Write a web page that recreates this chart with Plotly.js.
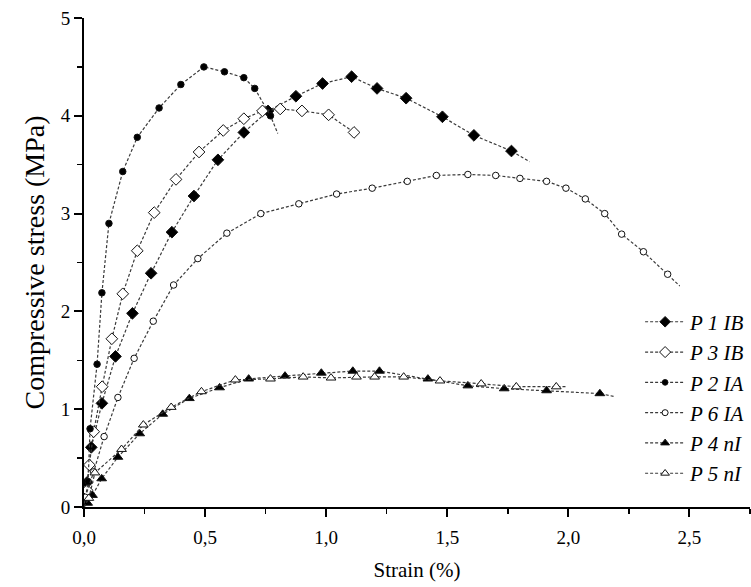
<!DOCTYPE html>
<html>
<head>
<meta charset="utf-8">
<script src="https://cdn.plot.ly/plotly-3.0.1.min.js"></script>
<style>html,body{margin:0;padding:0;background:#fff;}#chart{width:751px;height:587px;}</style>
</head>
<body>
<div id="chart"></div>
<script>
// Strain (%) and compressive stress (MPa) per specimen
const p1ibX = [0, 0.012, 0.03, 0.074, 0.13, 0.20, 0.277, 0.363, 0.454, 0.553, 0.66, 0.76, 0.875, 0.985, 1.105, 1.21, 1.33, 1.48, 1.61, 1.765, 1.84];
const p1ibY = [0, 0.25, 0.61, 1.06, 1.54, 1.98, 2.39, 2.81, 3.18, 3.55, 3.83, 4.05, 4.20, 4.33, 4.40, 4.28, 4.18, 3.99, 3.80, 3.64, 3.53];
const p1ibM = [false, true, true, true, true, true, true, true, true, true, true, true, true, true, true, true, true, true, true, true, false];

const p3ibX = [0, 0.013, 0.022, 0.04, 0.075, 0.115, 0.16, 0.22, 0.29, 0.38, 0.475, 0.575, 0.66, 0.737, 0.81, 0.90, 1.01, 1.115];
const p3ibY = [0, 0.17, 0.43, 0.77, 1.23, 1.72, 2.18, 2.62, 3.01, 3.35, 3.63, 3.85, 3.97, 4.05, 4.07, 4.05, 4.01, 3.83];
const p3ibM = [false, true, true, true, true, true, true, true, true, true, true, true, true, true, true, true, true, true];

const p2iaX = [0, 0.017, 0.025, 0.054, 0.074, 0.103, 0.16, 0.22, 0.31, 0.40, 0.495, 0.58, 0.66, 0.705, 0.77, 0.80];
const p2iaY = [0, 0.26, 0.80, 1.46, 2.19, 2.90, 3.43, 3.78, 4.08, 4.32, 4.50, 4.45, 4.39, 4.28, 4.00, 3.82];
const p2iaM = [false, true, true, true, true, true, true, true, true, true, true, true, true, true, true, false];

const p6iaX = [0, 0.005, 0.04, 0.083, 0.14, 0.207, 0.286, 0.37, 0.47, 0.59, 0.73, 0.887, 1.043, 1.19, 1.335, 1.455, 1.585, 1.70, 1.80, 1.91, 1.99, 2.07, 2.15, 2.22, 2.31, 2.41, 2.46];
const p6iaY = [0, 0.10, 0.36, 0.72, 1.12, 1.52, 1.90, 2.27, 2.54, 2.80, 3.00, 3.10, 3.20, 3.26, 3.33, 3.39, 3.40, 3.39, 3.36, 3.33, 3.26, 3.15, 3.00, 2.79, 2.61, 2.38, 2.26];
const p6iaM = [false, true, true, true, true, true, true, true, true, true, true, true, true, true, true, true, true, true, true, true, true, true, true, true, true, true, false];

const p4niX = [0, 0.015, 0.035, 0.073, 0.14, 0.23, 0.325, 0.435, 0.56, 0.68, 0.83, 0.98, 1.11, 1.22, 1.42, 1.585, 1.735, 1.91, 2.13, 2.19];
const p4niY = [0, 0.04, 0.12, 0.29, 0.51, 0.75, 0.95, 1.11, 1.22, 1.31, 1.34, 1.37, 1.39, 1.39, 1.31, 1.24, 1.21, 1.19, 1.16, 1.13];
const p4niM = [false, true, true, true, true, true, true, true, true, true, true, true, true, true, true, true, true, true, true, false];

const p5niX = [0, 0.02, 0.045, 0.155, 0.245, 0.36, 0.485, 0.625, 0.77, 0.905, 1.02, 1.125, 1.20, 1.32, 1.47, 1.64, 1.785, 1.95, 1.99];
const p5niY = [0, 0.09, 0.35, 0.59, 0.84, 1.02, 1.18, 1.30, 1.31, 1.33, 1.32, 1.33, 1.33, 1.33, 1.29, 1.26, 1.23, 1.23, 1.23];
const p5niM = [false, true, true, true, true, true, true, true, true, true, true, true, true, true, true, true, true, true, false];

const names = ["P 1 IB", "P 3 IB", "P 2 IA", "P 6 IA", "P 4 nI", "P 5 nI"];
const xTicks = [0, 0.5, 1.0, 1.5, 2.0, 2.5];
const xTickText = ["0,0", "0,5", "1,0", "1,5", "2,0", "2,5"];
const yTicks = [0, 1, 2, 3, 4, 5];

function sizes(mask, s) { return mask.map(m => m ? s : 0); }

function mk(x, y, mask, name, symbol, size, filled) {
  return {
    x: x, y: y, name: name, type: 'scatter', mode: 'lines+markers',
    line: {color: '#3a3a3a', width: 1.2, dash: '3px,2px'},
    marker: {
      symbol: symbol, size: sizes(mask, size), opacity: 1,
      color: filled ? '#000000' : '#ffffff',
      line: {color: '#111111', width: 1}
    }
  };
}

const traces = [
  mk(p1ibX, p1ibY, p1ibM, names[0], 'diamond', 9, true),
  mk(p3ibX, p3ibY, p3ibM, names[1], 'diamond', 9, false),
  mk(p2iaX, p2iaY, p2iaM, names[2], 'circle', 6.5, true),
  mk(p6iaX, p6iaY, p6iaM, names[3], 'circle', 6.5, false),
  mk(p4niX, p4niY, p4niM, names[4], 'triangle-up', 8.5, true),
  mk(p5niX, p5niY, p5niM, names[5], 'triangle-up', 8.5, false)
];

const font = '"Liberation Serif", "Times New Roman", Times, serif';

const layout = {
  width: 751, height: 587,
  margin: {l: 84, r: 1, t: 18, b: 80},
  paper_bgcolor: '#fff', plot_bgcolor: '#fff',
  font: {family: font, size: 19, color: '#000'},
  showlegend: true,
  legend: {
    x: 0.835, y: 0.42, xanchor: 'left', yanchor: 'top',
    bgcolor: 'rgba(0,0,0,0)', borderwidth: 0,
    font: {family: font, size: 21, color: '#000', style: 'italic'},
    tracegroupgap: 0, itemwidth: 40
  },
  xaxis: {
    range: [0, 2.75], showgrid: false, zeroline: false,
    showline: true, linecolor: '#000', linewidth: 2, mirror: false,
    ticks: 'outside', ticklen: 8, tickwidth: 2, tickcolor: '#000',
    tickvals: xTicks, ticktext: xTickText, ticklabelstandoff: 4,
    tickfont: {family: font, size: 19},
    minor: {dtick: 0.25, ticks: 'outside', ticklen: 5, tickwidth: 1.5, tickcolor: '#000'},
    title: {text: 'Strain (%)', font: {family: font, size: 21}, standoff: 16}
  },
  yaxis: {
    range: [0, 5], showgrid: false, zeroline: false,
    showline: true, linecolor: '#000', linewidth: 2, mirror: false,
    ticks: 'outside', ticklen: 8, tickwidth: 2, tickcolor: '#000',
    tickvals: yTicks,
    tickfont: {family: font, size: 19},
    minor: {dtick: 0.5, ticks: 'outside', ticklen: 5, tickwidth: 1.5, tickcolor: '#000'},
    title: {text: 'Compressive stress (MPa)', font: {family: font, size: 28}, standoff: 8}
  }
};

Plotly.newPlot('chart', traces, layout, {staticPlot: true, displayModeBar: false});
</script>
</body>
</html>
